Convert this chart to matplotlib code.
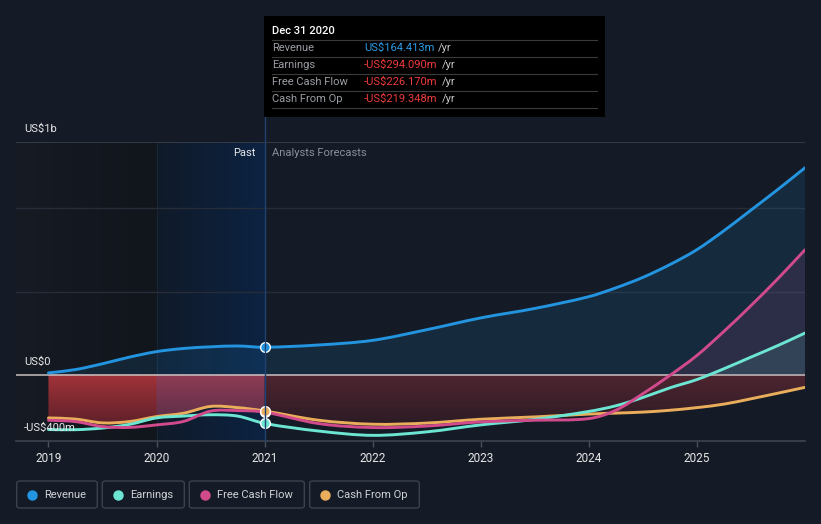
import matplotlib
matplotlib.use('Agg')
import matplotlib.pyplot as plt
from matplotlib.patches import FancyBboxPatch, Rectangle, PathPatch
from matplotlib.path import Path
from matplotlib.lines import Line2D
import numpy as np

# data (US$ m)
years = [2019.0, 2019.25, 2019.5, 2019.75, 2020.0, 2020.25, 2020.5, 2020.75, 2021.0,
         2021.5, 2022.0, 2022.5, 2023.0, 2023.5, 2024.0, 2024.25, 2024.5, 2024.75,
         2025.0, 2025.25, 2025.5, 2025.75, 2026.0]
revenue = [10, 30, 65, 105, 138, 157, 167, 172, 164.4,
           178, 206, 270, 341, 398, 469, 522, 585, 662,
           752, 866, 990, 1115, 1245]
earnings = [-331, -332, -322, -300, -261, -250, -242, -250, -294.1,
            -340, -366, -345, -303, -270, -222, -188, -138, -80,
            -30, 35, 105, 175, 250]
fcf = [-275, -283, -313, -318, -303, -282, -220, -217, -226.2,
       -295, -319, -310, -285, -275, -265, -215, -115, -5,
       115, 260, 415, 578, 751]
cfo = [-261, -268, -291, -283, -253, -233, -192, -199, -219.3,
       -275, -299, -292, -269, -255, -238, -232, -226, -215,
       -199, -178, -146, -112, -77]

xticks = [2019, 2020, 2021, 2022, 2023, 2024, 2025]
names = ['Revenue', 'Earnings', 'Free Cash Flow', 'Cash From Op']
colors = ['#2394df', '#6ce5d3', '#d04a8c', '#e9ad5b']

BG = '#151b26'
W, H = 821, 524
plt.rcParams['font.family'] = ['Roboto', 'DejaVu Sans']

def fx(px):
    return px / W

def fy(py):
    return 1 - py / H

fig = plt.figure(figsize=(W / 100, H / 100), dpi=100, facecolor=BG)
ax = fig.add_axes([fx(16), fy(441), fx(805) - fx(16), fy(142) - fy(441)])
ax.set_facecolor(BG)
X0, X1, Y0, Y1 = 2018.70, 2026.0, -400, 1400

def rgb(h):
    h = h.lstrip('#')
    return np.array([int(h[i:i + 2], 16) / 255 for i in (0, 2, 4)])

def hgrad(c0, c1, n=256):
    t = np.linspace(0, 1, n)[None, :, None]
    return rgb(c0) * (1 - t) + rgb(c1) * t

def vgrad(c_bot, c_top, n=256):
    t = np.linspace(0, 1, n)[:, None, None]
    return rgb(c_bot) * (1 - t) + rgb(c_top) * t

def smooth(xs, ys):
    # cubic bezier segments through the points (hermite tangents)
    xs = np.asarray(xs, float)
    ys = np.asarray(ys, float)
    n = len(xs)
    m = np.zeros(n)
    for k in range(n):
        a, b = max(k - 1, 0), min(k + 1, n - 1)
        m[k] = (ys[b] - ys[a]) / (xs[b] - xs[a])
    verts = [(xs[0], ys[0])]
    codes = [Path.MOVETO]
    for k in range(n - 1):
        h = xs[k + 1] - xs[k]
        verts += [(xs[k] + h / 3, ys[k] + m[k] * h / 3),
                  (xs[k + 1] - h / 3, ys[k + 1] - m[k + 1] * h / 3),
                  (xs[k + 1], ys[k + 1])]
        codes += [Path.CURVE4] * 3
    return verts, codes

def area(xs, ys):
    verts, codes = smooth(xs, ys)
    verts = verts + [(xs[-1], 0), (xs[0], 0), (xs[0], 0)]
    codes = codes + [Path.LINETO, Path.LINETO, Path.CLOSEPOLY]
    return Path(verts, codes)

# background bands (before 2020 darker, 2020-2021 blue "past")
ax.imshow(hgrad('#161b24', '#11151c'), extent=[X0, 2020, Y0, Y1],
          aspect='auto', origin='lower', zorder=0)
ax.imshow(hgrad('#101a29', '#0c2342'), extent=[2020, 2021, Y0, Y1],
          aspect='auto', origin='lower', zorder=0)
ax.axvline(2020, color='#1a2638', lw=0.8, zorder=0.5)

# grid
for v in [500, 1000]:
    ax.axhline(v, color='#262c38', lw=1, zorder=1)
ax.axhline(Y1, color='#3a3f4a', lw=1.2, zorder=1)

i21 = years.index(2021.0)
upper = Rectangle((X0, 0), X1 - X0, Y1, transform=ax.transData)

# revenue fill
ax.add_patch(PathPatch(area(years, revenue), facecolor='#2394df', alpha=0.13, lw=0, zorder=2))
# positive parts of fcf / earnings
for ser, c in [(fcf, '#d04a8c'), (earnings, '#6ce5d3')]:
    p = PathPatch(area(years, ser), facecolor=c, alpha=0.12, lw=0, zorder=2)
    ax.add_patch(p)
    p.set_clip_path(upper)

# negative red fills with gradient, down to cash from op
def grad_fill(xs, ys, img, zorder):
    pp = PathPatch(area(xs, ys), facecolor='none', lw=0)
    ax.add_patch(pp)
    im = ax.imshow(img, extent=[xs[0], xs[-1], -320, 0],
                   aspect='auto', origin='lower', zorder=zorder)
    im.set_clip_path(pp)

grad_fill(years[:i21 + 1], cfo[:i21 + 1], vgrad('#5a1f28', '#a3333a'), 2.2)
grad_fill(years[i21:], cfo[i21:], vgrad('#2a1b24', '#4e2530'), 2.2)
i20 = years.index(2020.0)
ax.add_patch(PathPatch(area(years[i20:i21 + 1], cfo[i20:i21 + 1]), facecolor='#3a6ad0',
                       alpha=0.18, lw=0, zorder=2.3))

ax.axhline(0, color='#c8c2c2', lw=1.1, zorder=3)

# lines
for ser, c, z in [(cfo, colors[3], 4), (earnings, colors[1], 4.1),
                  (fcf, colors[2], 4.2), (revenue, colors[0], 4.3)]:
    v, cd = smooth(years, ser)
    ax.add_patch(PathPatch(Path(v, cd), facecolor='none', edgecolor=c, lw=2.1,
                           capstyle='round', joinstyle='round', zorder=z))

# highlight dots at Dec 31 2020
for ser, c, z in [(fcf, colors[2], 5), (cfo, colors[3], 5.1),
                  (earnings, colors[1], 5.2), (revenue, colors[0], 5.3)]:
    ax.plot(2021.0, ser[i21], 'o', ms=7, mfc=c, mec='white', mew=1.0, zorder=z)

ax.set_xlim(X0, X1)
ax.set_ylim(Y0, Y1)
ax.set_yticks([])
ax.set_xticks(xticks)
ax.set_xticklabels([str(t) for t in xticks], color='#e6e6e6', fontsize=8.5)
ax.tick_params(axis='x', colors='#4a505c', length=4, width=1, pad=4, labelcolor='#e6e6e6')
for s in ['top', 'right', 'left']:
    ax.spines[s].set_visible(False)
ax.spines['bottom'].set_color('#3d434f')
ax.spines['bottom'].set_linewidth(1.2)

# y labels
for txt, py in [('US$1b', 129), ('US$0', 362), ('-US$400m', 428)]:
    fig.text(fx(24), fy(py), txt, color='#e8e8e8', fontsize=8, va='center', ha='left')

fig.text(fx(255), fy(153), 'Past', color='#e8e8e8', fontsize=8, va='center', ha='right')
fig.text(fx(272), fy(153), 'Analysts Forecasts', color='#8a8f98', fontsize=8, va='center', ha='left')

# vertical marker line
fig.add_artist(Line2D([fx(264.5), fx(264.5)], [fy(117), fy(441)], color='#1f4270', lw=1, zorder=6))

# tooltip
fig.add_artist(Rectangle((fx(264), fy(117)), fx(605) - fx(264), fy(16) - fy(117),
                         facecolor='black', edgecolor='none', zorder=7))
fig.text(fx(272), fy(31), 'Dec 31 2020', color='white', fontsize=8, fontweight='medium',
         va='center', zorder=8)
for py in [40, 57, 74, 91, 108]:
    fig.add_artist(Line2D([fx(272), fx(597)], [fy(py), fy(py)], color='#3a3a3a', lw=0.8, zorder=8))
rows = [('Revenue', 'US$164.413m', '#2a9be6'),
        ('Earnings', '-US$294.090m', '#ee3b3b'),
        ('Free Cash Flow', '-US$226.170m', '#ee3b3b'),
        ('Cash From Op', '-US$219.348m', '#ee3b3b')]
renderer = fig.canvas.get_renderer()
for k, (lab, val, c) in enumerate(rows):
    py = 48 + 17 * k
    fig.text(fx(272), fy(py), lab, color='#9a9ea4', fontsize=8, va='center', zorder=8)
    t = fig.text(fx(364), fy(py), val, color=c, fontsize=8, va='center', zorder=8)
    x_end = t.get_window_extent(renderer).x1
    fig.text(fx(x_end + 4), fy(py), '/yr', color='#c8c8c8', fontsize=8, va='center', zorder=8)

# legend boxes
boxes = [(16.7, 97.3), (102.3, 184.3), (189.3, 304.3), (309.7, 419.3)]
for (x0, x1), name, c in zip(boxes, names, colors):
    fig.add_artist(FancyBboxPatch((fx(x0), fy(508)), fx(x1) - fx(x0), fy(481) - fy(508),
                                  boxstyle='round,pad=0,rounding_size=0.004',
                                  facecolor='none', edgecolor='#3b414d', lw=1))
    fig.add_artist(Line2D([fx(x0 + 15.5)], [fy(494.5)], marker='o', ms=6.5,
                          color=c, mec=c, lw=0))
    fig.text(fx(x0 + 27.5), fy(494.5), name, color='#d0d2d6', fontsize=8, va='center')

fig.savefig('out.png', dpi=100, facecolor=BG)
